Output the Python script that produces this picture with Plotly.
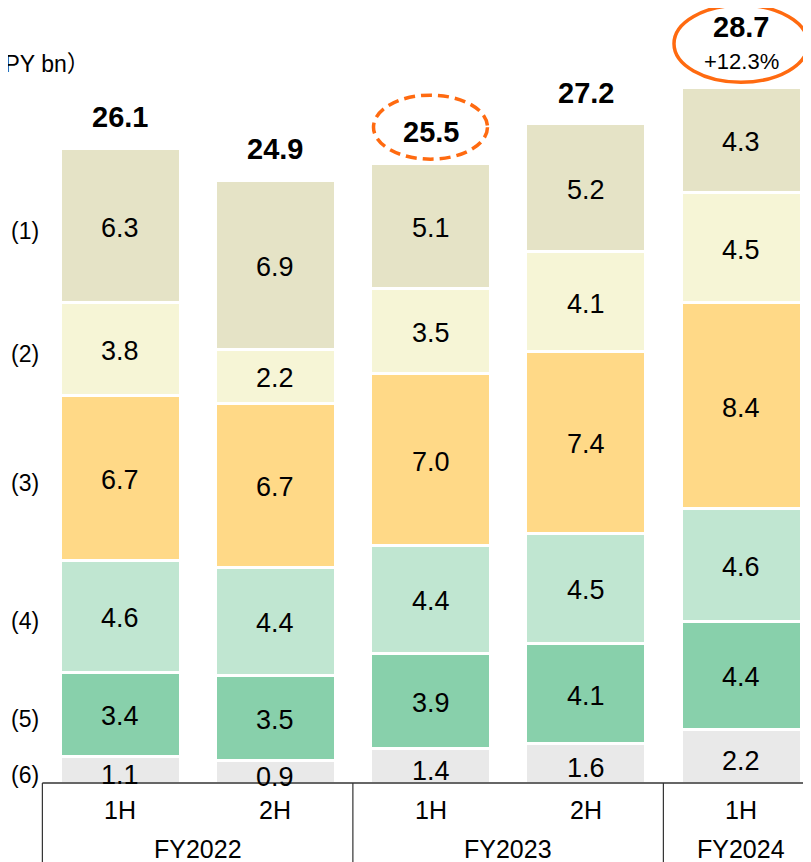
import numpy as np
import plotly.graph_objects as go

# half-year periods and fiscal-year groups
periods = ['1H', '2H', '1H', '2H', '1H']
fiscal_years = ['FY2022', 'FY2023', 'FY2024']
fy_span = [(0, 1), (2, 3), (4, 4)]

# segment values, bottom (6) to top (1)
seg6 = [1.1, 0.9, 1.4, 1.6, 2.2]
seg5 = [3.4, 3.5, 3.9, 4.1, 4.4]
seg4 = [4.6, 4.4, 4.4, 4.5, 4.6]
seg3 = [6.7, 6.7, 7.0, 7.4, 8.4]
seg2 = [3.8, 2.2, 3.5, 4.1, 4.5]
seg1 = [6.3, 6.9, 5.1, 5.2, 4.3]
seg_names = ['(6)', '(5)', '(4)', '(3)', '(2)', '(1)']
totals = [26.1, 24.9, 25.5, 27.2, 28.7]
growth_label = '+12.3%'
unit_label = 'JPY bn'

COLORS = ['#E9E9E9', '#88D0AB', '#C0E6D1', '#FFD987', '#F6F5D6', '#E5E3C6']
ORANGE = '#FF6A10'
FONT = 'Liberation Sans, Arial, sans-serif'
CJK = 'Noto Sans CJK JP'

# the page body adds an 8px margin, so the figure is drawn 8px in from the corner
OFF = 8
W, H = 811 - OFF, 862 - OFF
PLOT_BOTTOM = 783 - OFF      # baseline / table top, in figure pixels
PX_PER_UNIT = 24.5
X0_PX, STEP_PX = 120 - OFF, 155.25


def py(p):
    """page pixel row -> paper y"""
    return (PLOT_BOTTOM - (p - OFF)) / PLOT_BOTTOM


def px(p):
    """page pixel column -> paper x"""
    return (p - OFF) / W


segs = [seg6, seg5, seg4, seg3, seg2, seg1]
x = np.arange(len(periods))
cum = np.cumsum(np.array(segs), axis=0)
tops = cum[-1]

fig = go.Figure()
for name, vals, col in zip(seg_names, segs, COLORS):
    fig.add_trace(go.Bar(x=x, y=vals, name=name, width=120 / STEP_PX,
                         marker=dict(color=col, line=dict(color='white', width=3)),
                         hoverinfo='skip'))

ann = []
# values inside segments
for i in range(len(segs)):
    lo = cum[i - 1] if i > 0 else np.zeros(len(x))
    for j in range(len(x)):
        ann.append(dict(x=x[j], y=(lo[j] + cum[i][j]) / 2, text=f'{segs[i][j]:.1f}',
                        showarrow=False, font=dict(size=27, color='black'),
                        yanchor='middle', yshift=-5 if i == 0 else -2))
# row labels, aligned with the first bar
for i, name in enumerate(seg_names):
    lo = cum[i - 1][0] if i > 0 else 0
    ann.append(dict(x=px(25), xref='paper', xanchor='center', y=(lo + cum[i][0]) / 2,
                    yanchor='middle', text=name, showarrow=False,
                    font=dict(size=23, color='black'), yshift=-5))
# totals
for j in range(len(x)):
    last = j == len(x) - 1
    ann.append(dict(x=x[j], y=tops[j], text=f'<b>{totals[j]:.1f}</b>', showarrow=False,
                    yanchor='middle', font=dict(size=29, color='black'),
                    yshift=60 if last else 31))
ann.append(dict(x=x[-1], y=tops[-1], text=growth_label, showarrow=False, yanchor='middle',
                font=dict(size=22, color='black'), yshift=26))
# unit label (full-width brackets, left one off the page)
ann.append(dict(x=px(92), xref='paper', xanchor='right', y=py(62), yref='paper',
                yanchor='middle',
                text=f'<span style="font-family:{CJK}">（</span>{unit_label}'
                     f'<span style="font-family:{CJK}">）</span>',
                showarrow=False, font=dict(size=23, color='black')))
# table text
for j, p in enumerate(periods):
    ann.append(dict(x=x[j], y=py(810), yref='paper', yanchor='middle', text=p,
                    showarrow=False, font=dict(size=25, color='black')))
for fy, (a, b) in zip(fiscal_years, fy_span):
    ann.append(dict(x=(a + b) / 2, y=py(849), yref='paper', yanchor='middle', text=fy,
                    showarrow=False, font=dict(size=25, color='black')))

shapes = []
# table lines
shapes.append(dict(type='line', xref='x', yref='paper', x0=-0.5, x1=4.6, y0=0, y1=0,
                   line=dict(color='#333', width=1.5)))
for xv in [-0.5, 1.5, 3.5]:
    shapes.append(dict(type='line', xref='x', yref='paper', x0=xv, x1=xv, y0=0,
                       y1=-0.12, line=dict(color='#333', width=1.2)))
# highlight ellipses
shapes.append(dict(type='circle', xref='x', yref='y', xsizemode='pixel', ysizemode='pixel',
                   xanchor=2, yanchor=tops[2], x0=-57, x1=57, y0=4, y1=68,
                   line=dict(color=ORANGE, width=3.5, dash='11px,6px')))
shapes.append(dict(type='circle', xref='x', yref='y', xsizemode='pixel', ysizemode='pixel',
                   xanchor=4, yanchor=tops[4], x0=-67, x1=67, y0=5, y1=82,
                   line=dict(color=ORANGE, width=3.5)))

fig.update_layout(
    barmode='stack',
    width=W, height=H,
    margin=dict(l=0, r=0, t=0, b=H - PLOT_BOTTOM),
    paper_bgcolor='white', plot_bgcolor='white',
    showlegend=False,
    font=dict(family=FONT, color='black'),
    xaxis=dict(range=[-X0_PX / STEP_PX, (W - X0_PX) / STEP_PX], visible=False),
    yaxis=dict(range=[0, PLOT_BOTTOM / PX_PER_UNIT], visible=False),
    annotations=ann,
    shapes=shapes,
)

fig.write_html('out.html')
